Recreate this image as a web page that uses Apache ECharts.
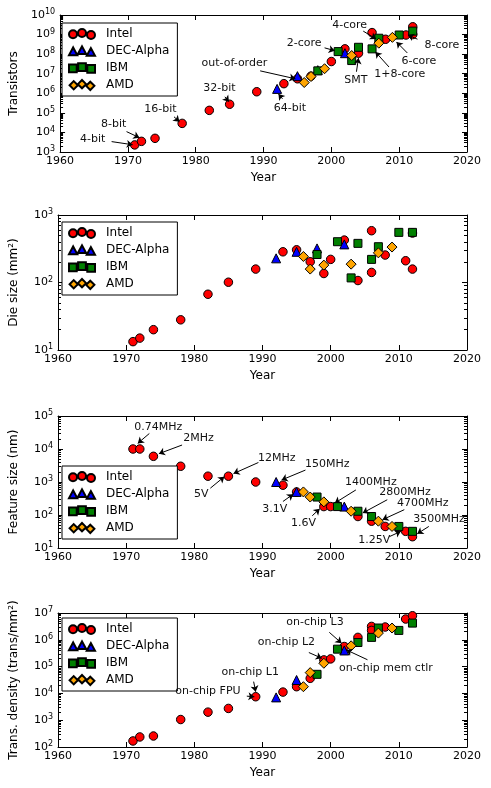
<!DOCTYPE html>
<html>
<head>
<meta charset="utf-8">
<script src="https://cdn.jsdelivr.net/npm/echarts@6/dist/echarts.min.js"></script>
<style>
html, body { margin: 0; padding: 0; background: #fff; }
#main { width: 491px; height: 788px; }
</style>
</head>
<body>
<div id="main"></div>
<script>
// series names, years on x
var seriesNames = ['Intel', 'DEC-Alpha', 'IBM', 'AMD'];
var yearRange = [1960, 2020];

// transistors per chip
var trIntel = [[1971, 2300], [1972, 3500], [1974, 5000], [1978, 29000], [1982, 134000], [1985, 275000],
    [1989, 1200000], [1993, 3100000], [1995, 5500000], [1997, 7500000], [2000, 42000000], [2002, 186000000],
    [2004, 112000000], [2006, 1260000000], [2008, 575000000], [2011, 950000000], [2012, 1000000000], [2012, 2500000000]];
var trDec = [[1992, 1680000], [1995, 7500000], [1998, 15200000], [2002, 112000000]];
var trIbm = [[1998, 14000000], [2001, 135000000], [2003, 47000000], [2004, 224000000], [2006, 186000000],
    [2007, 650000000], [2010, 950000000], [2012, 1500000000]];
var trAmd = [[1996, 3550000], [1997, 7200000], [1999, 18000000], [2003, 85000000], [2007, 363000000], [2009, 720000000]];

// die size (mm2)
var dieIntel = [[1971, 13.3], [1972, 15], [1974, 20], [1978, 28], [1982, 67], [1985, 101], [1989, 158],
    [1993, 285], [1995, 305], [1997, 203], [1999, 136], [2000, 220], [2002, 425], [2004, 107], [2006, 585],
    [2006, 141], [2008, 255], [2011, 210], [2012, 158], [2012, 540]];
var dieDec = [[1992, 228], [1995, 285], [1998, 320], [2002, 367]];
var dieIbm = [[1998, 260], [2001, 402], [2003, 117], [2004, 380], [2006, 220], [2007, 339], [2010, 553], [2012, 553]];
var dieAmd = [[1996, 243], [1997, 158], [1999, 181], [2003, 187], [2007, 275], [2009, 335]];

// feature size (nm)
var featIntel = [[1971, 10000], [1972, 10000], [1974, 6000], [1978, 3000], [1982, 1500], [1985, 1500],
    [1989, 1000], [1993, 800], [1995, 500], [1999, 180], [2000, 180], [2004, 90], [2006, 65], [2008, 45],
    [2011, 32], [2012, 22]];
var featDec = [[1992, 1000], [1995, 500], [2002, 180]];
var featIbm = [[1998, 350], [2001, 180], [2004, 130], [2006, 90], [2010, 45], [2012, 32]];
var featAmd = [[1996, 500], [1997, 350], [1999, 250], [2003, 130], [2007, 65], [2009, 45]];

// transistor density (trans/mm2)
var densIntel = [[1971, 168], [1972, 237], [1974, 257], [1978, 1060], [1982, 2000], [1985, 2750], [1989, 7500],
    [1993, 11200], [1995, 17800], [1997, 36500], [1999, 178000], [2000, 194000], [2002, 562000],
    [2004, 1230000], [2006, 3160000], [2006, 2240000], [2008, 3000000], [2011, 5960000], [2012, 7900000]];
var densDec = [[1992, 7100], [1995, 31600], [2002, 400000]];
var densIbm = [[1998, 51500], [2001, 447000], [2004, 794000], [2006, 1230000], [2007, 2750000], [2010, 2240000], [2012, 4200000]];
var densAmd = [[1996, 17800], [1997, 59600], [1999, 133000], [2003, 596000], [2007, 1780000], [2009, 2750000]];

// y ranges (log)
var trRange = [1e3, 1e10];
var dieRange = [1e1, 1e3];
var featRange = [1e1, 1e5];
var densRange = [1e2, 1e7];

// annotations: [text, textYear, textValue, fromYear, fromValue, toYear, toValue]
var trNotes = [
    ['4-bit', 1964.8, 4.3e3, 1967.6, 3.4e3, 1970.7, 2.35e3],
    ['8-bit', 1967.9, 2.75e4, 1969.8, 1.1e4, 1971.7, 5.4e3],
    ['16-bit', 1974.8, 1.6e5, 1976.8, 6.3e4, 1977.6, 3.5e4],
    ['32-bit', 1983.5, 1.9e6, 1984.3, 6.6e5, 1984.9, 3.7e5],
    ['64-bit', 1993.9, 1.8e5, 1992.8, 5.2e5, 1992.2, 9.3e5],
    ['out-of-order', 1985.7, 3.5e7, 1989.5, 1.4e7, 1994.7, 5.5e6],
    ['2-core', 1996, 3.7e8, 1999, 2.1e8, 2000.5, 1.5e8],
    ['SMT', 2003.6, 4.9e6, 2003.7, 1.26e7, 2004, 6.3e7],
    ['4-core', 2002.7, 3.1e9, 2004.7, 1.5e9, 2006.6, 6e8],
    ['1+8-core', 2010.1, 1e7, 2008.5, 2.2e7, 2006.5, 1.3e8],
    ['6-core', 2012.9, 4.6e7, 2011.2, 1.15e8, 2009.6, 4.2e8],
    ['8-core', 2016.3, 2.9e8, 2012.7, 5.8e8, 2011.3, 9.5e8]
];
var featNotes = [
    ['0.74MHz', 1974.7, 4.5e4, 1973.4, 2.95e4, 1971.7, 1.48e4],
    ['2MHz', 1980.6, 2.2e4, 1978.2, 1.32e4, 1974.8, 7.2e3],
    ['12MHz', 1992.1, 5.4e3, 1989.4, 3.9e3, 1985.75, 1.8e3],
    ['5V', 1981.0, 440, 1982.35, 650, 1984.4, 1.45e3],
    ['150MHz', 1999.5, 3.4e3, 1996.3, 2.3e3, 1992.8, 1.15e3],
    ['3.1V', 1991.8, 155, 1993.0, 257, 1994.5, 427],
    ['1400MHz', 2005.9, 980, 2003.7, 575, 2000.6, 230],
    ['1.6V', 1996.0, 56, 1997.3, 95, 1998.4, 155],
    ['2800MHz', 2010.9, 490, 2008.3, 290, 2004.7, 115],
    ['4700MHz', 2013.5, 230, 2010.8, 145, 2007.6, 72],
    ['3500MHz', 2015.9, 74, 2014.4, 45, 2012.7, 27],
    ['1.25V', 2006.4, 17, 2008.6, 22, 2010.3, 32]
];
var densNotes = [
    ['on-chip FPU', 1982.0, 1.26e4, 1987.7, 7.9e3, 1988.8, 7.5e3],
    ['on-chip L1', 1988.2, 6e4, 1988.7, 2.75e4, 1989.0, 1.15e4],
    ['on-chip L2', 1993.5, 7.9e5, 1996.8, 3.35e5, 1998.7, 2.05e5],
    ['on-chip L3', 1997.7, 4.5e6, 1999.8, 1.9e6, 2001.6, 7.5e5],
    ['on-chip mem ctlr', 2008.1, 8.7e4, 2005.4, 1.8e5, 2002.3, 4.2e5]
];

var panels = [
    { name: 'Transistors', range: trRange, data: [trIntel, trDec, trIbm, trAmd], notes: trNotes },
    { name: 'Die size (mm²)', range: dieRange, data: [dieIntel, dieDec, dieIbm, dieAmd], notes: [] },
    { name: 'Feature size (nm)', range: featRange, data: [featIntel, featDec, featIbm, featAmd], notes: featNotes },
    { name: 'Trans. density (trans/mm²)', range: densRange, data: [densIntel, densDec, densIbm, densAmd], notes: densNotes }
];

// layout
var gridTop = [15, 215, 416, 613];
var gridHeight = [137, 135, 132, 134];
var legendTop = [23, 222, 466, 618];
var font = 'DejaVu Sans';
var colors = ['#ff0000', '#0000ff', '#008000', '#ffa500'];
var symbols = ['circle', 'triangle', 'rect', 'diamond'];
var symbolSizes = [8.5, 9, 8, 10];

// legend icon with three markers, like matplotlib scatter legends
function tripleIcon(shape) {
    var xs = [4.5, 13.5, 22.5], ys = [6.25, 5, 6.875];
    var p = '';
    for (var i = 0; i < 3; i++) {
        var x = xs[i], y = ys[i];
        if (shape === 'circle') {
            p += 'M' + (x - 4) + ' ' + y + 'a4 4 0 1 0 8 0a4 4 0 1 0 -8 0Z';
        } else if (shape === 'triangle') {
            p += 'M' + (x - 4.2) + ' ' + (y + 3.6) + 'L' + x + ' ' + (y - 4.2) + 'L' + (x + 4.2) + ' ' + (y + 3.6) + 'Z';
        } else if (shape === 'rect') {
            p += 'M' + (x - 3.8) + ' ' + (y - 3.8) + 'L' + (x + 3.8) + ' ' + (y - 3.8) + 'L' + (x + 3.8) + ' ' + (y + 3.8) + 'L' + (x - 3.8) + ' ' + (y + 3.8) + 'Z';
        } else {
            p += 'M' + x + ' ' + (y - 4.5) + 'L' + (x + 4.5) + ' ' + y + 'L' + x + ' ' + (y + 4.5) + 'L' + (x - 4.5) + ' ' + y + 'Z';
        }
    }
    return 'path://' + p;
}

function powLabel(v) {
    var e = Math.round(Math.log(v) / Math.LN10);
    return '{b|10}{e|' + e + '}';
}

var myChart = echarts.init(document.getElementById('main'), null, { renderer: 'canvas' });
var option = {
    animation: false,
    textStyle: { fontFamily: font },
    grid: [], xAxis: [], yAxis: [], legend: [], series: []
};

panels.forEach(function (pn, i) {
    option.grid.push({ left: 55, right: 24, top: gridTop[i], height: gridHeight[i] });
    var tick = { show: true, inside: true, length: 5, lineStyle: { color: '#000', width: 1 } };
    var minor = { show: true, splitNumber: 9, length: 3, lineStyle: { color: '#000', width: 1 } };
    var line = { show: true, lineStyle: { color: '#000', width: 1 } };
    option.xAxis.push({
        gridIndex: i, type: 'value', min: yearRange[0], max: yearRange[1], interval: 10,
        name: 'Year', nameLocation: 'middle', nameGap: 20,
        nameTextStyle: { fontSize: 12, color: '#000', fontFamily: font },
        axisLine: line, axisTick: tick, splitLine: { show: false },
        axisLabel: { fontSize: 11, color: '#000', margin: 4, fontFamily: font,
            formatter: function (v) { return String(v); } }
    });
    option.xAxis.push({
        gridIndex: i, type: 'value', position: 'top', min: yearRange[0], max: yearRange[1], interval: 10,
        axisLine: line, axisTick: tick, splitLine: { show: false }, axisLabel: { show: false }
    });
    option.yAxis.push({
        gridIndex: i, type: 'log', logBase: 10, min: pn.range[0], max: pn.range[1], interval: 1,
        name: pn.name, nameLocation: 'middle', nameGap: 38,
        nameTextStyle: { fontSize: 12, color: '#000', fontFamily: font },
        axisLine: line, axisTick: tick, minorTick: minor, splitLine: { show: false },
        axisLabel: {
            margin: 5, formatter: powLabel,
            rich: {
                b: { fontSize: 11, color: '#000', fontFamily: font, lineHeight: 14 },
                e: { fontSize: 8, color: '#000', fontFamily: font, verticalAlign: 'top', lineHeight: 8 }
            }
        }
    });
    option.yAxis.push({
        gridIndex: i, type: 'log', logBase: 10, position: 'right', min: pn.range[0], max: pn.range[1], interval: 1,
        axisLine: line, axisTick: tick, minorTick: minor, splitLine: { show: false }, axisLabel: { show: false }
    });
    option.legend.push({
        left: 62, top: legendTop[i], orient: 'vertical',
        itemWidth: 26, itemHeight: 10, itemGap: 5,
        padding: [5, 8, 5, 6],
        borderColor: '#000', borderWidth: 1, backgroundColor: '#fff',
        textStyle: { fontSize: 12, color: '#000', fontFamily: font, padding: [0, 0, 0, 6] },
        selectedMode: false,
        data: seriesNames.map(function (n, k) { return { name: n, icon: tripleIcon(symbols[k]) }; })
    });
    seriesNames.forEach(function (n, k) {
        option.series.push({
            name: n, type: 'scatter', xAxisIndex: 2 * i, yAxisIndex: 2 * i,
            symbol: symbols[k], symbolSize: symbolSizes[k],
            itemStyle: { color: colors[k], borderColor: '#000', borderWidth: 1, opacity: 1 },
            silent: true,
            data: pn.data[k]
        });
    });
    if (pn.notes.length) {
        option.series.push({
            name: 'notes' + i, type: 'scatter', xAxisIndex: 2 * i, yAxisIndex: 2 * i,
            symbol: 'circle', symbolSize: 1, itemStyle: { color: 'rgba(0,0,0,0)', opacity: 1 },
            silent: true, clip: false, z: 5,
            label: {
                show: true, position: 'inside', color: '#111', fontSize: 11, fontFamily: font,
                textBorderWidth: 0, opacity: 1,
                formatter: function (p) { return p.value[2]; }
            },
            data: pn.notes.map(function (a) { return [a[1], a[2], a[0]]; }),
            markLine: {
                silent: true, symbol: ['none', 'arrow'], symbolSize: 6,
                lineStyle: { color: '#000', width: 1, type: 'solid' },
                label: { show: false },
                data: pn.notes.map(function (a) { return [{ coord: [a[3], a[4]] }, { coord: [a[5], a[6]] }]; })
            }
        });
    }
});

myChart.setOption(option);
</script>
</body>
</html>
